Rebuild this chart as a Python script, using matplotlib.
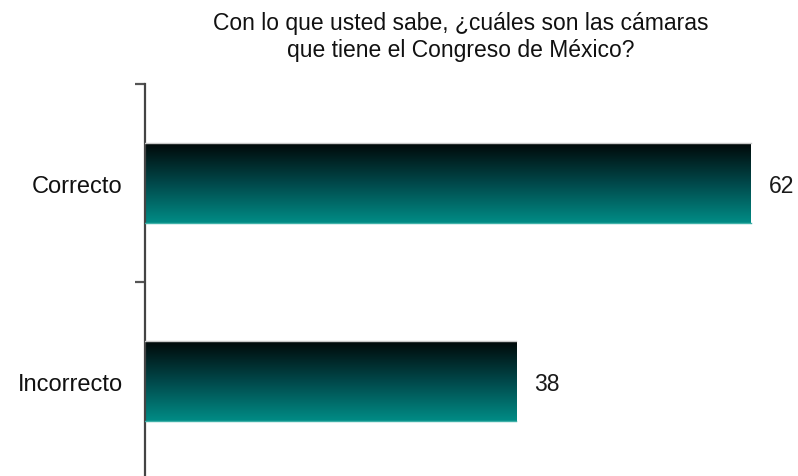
import matplotlib
matplotlib.use("Agg")
import matplotlib.pyplot as plt
import numpy as np
from matplotlib.colors import LinearSegmentedColormap

plt.rcParams['font.family'] = ['Liberation Sans', 'DejaVu Sans']

categories = ["Correcto", "Incorrecto"]
values = [62, 38]
title = "Con lo que usted sabe, ¿cuáles son las cámaras\nque tiene el Congreso de México?"

fig = plt.figure(figsize=(7.98, 4.76), dpi=100)
W, H = 798, 476
left_px, right_px, top_px, bottom_px = 145, 798, 84, 480
ax = fig.add_axes([left_px / W, 1 - bottom_px / H, (right_px - left_px) / W, (bottom_px - top_px) / H])

xmax = (right_px - left_px) / ((751 - 145) / 62)
ax.set_xlim(0, xmax)
ax.set_ylim(-0.5, 1.5)

cmap = LinearSegmentedColormap.from_list("g", ["#008c86", "#00484a", "#000808"])
grad = np.linspace(0, 1, 256).reshape(-1, 1)
bar_h = 0.4
n = len(categories)
for i, (cat, v) in enumerate(zip(categories, values)):
    y = n - 1 - i
    ax.imshow(grad, cmap=cmap, aspect='auto', origin='lower',
              extent=[0, v, y - bar_h / 2, y + bar_h / 2], zorder=2, interpolation='bicubic')
    ax.plot([0, v], [y + bar_h / 2, y + bar_h / 2], color="#c8c8c8", lw=1, zorder=3)
    ax.plot([0, v], [y - bar_h / 2, y - bar_h / 2], color="#3fb0a8", lw=1, zorder=3)
    ax.text(v + 1.8, y - 0.018, str(v), va='center', ha='left', fontsize=16.5, color='#1a1a1a')
    ax.text(-2.3, y - 0.02, cat, va='center', ha='right', fontsize=17, color='#111111')
ax.set_xlim(0, xmax)
ax.set_ylim(-0.5, 1.5)

for s in ['top', 'right', 'bottom']:
    ax.spines[s].set_visible(False)
ax.spines['left'].set_color('#444444')
ax.spines['left'].set_linewidth(1.6)
ax.set_xticks([])
ax.set_yticks([-0.5, 0.5, 1.5])
ax.set_yticklabels([])
ax.tick_params(axis='y', length=7, width=1.6, color='#555555', direction='out')

fig.text(461 / W, 1 - 37 / H, title, ha='center', va='center', fontsize=16.5, color='#111111', linespacing=1.25)

fig.savefig("out.png", dpi=100)
